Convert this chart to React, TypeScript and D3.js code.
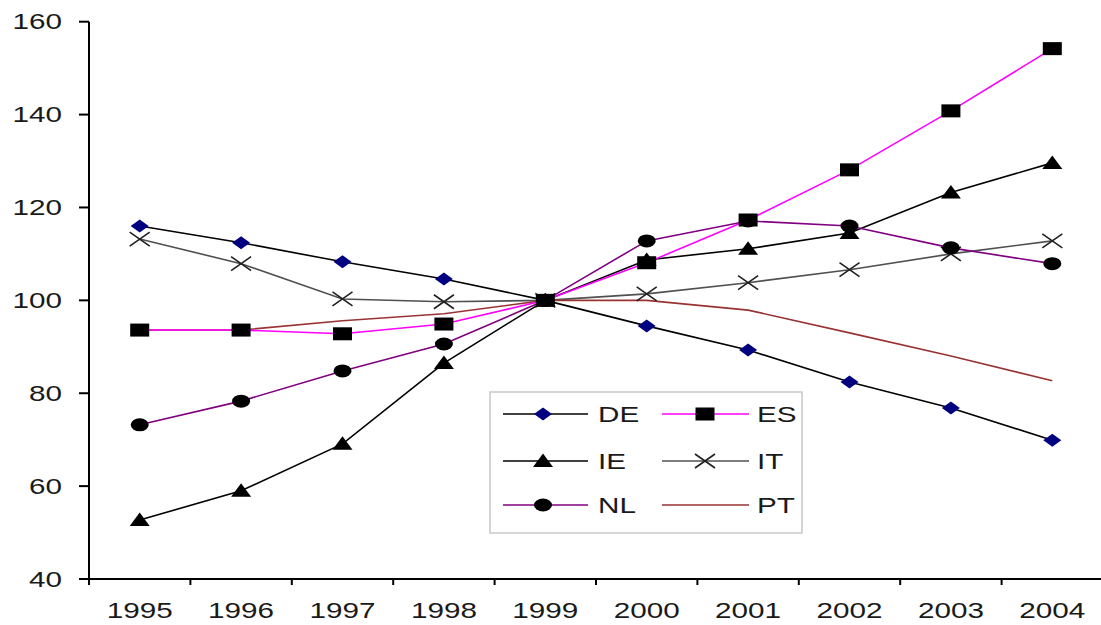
import React from "react";
import * as d3 from "d3";

const years = ["1995", "1996", "1997", "1998", "1999", "2000", "2001", "2002", "2003", "2004"];
const yTicks = [40, 60, 80, 100, 120, 140, 160];
const DE = [116.0, 112.4, 108.3, 104.6, 100, 94.5, 89.3, 82.4, 76.8, 69.9];
const ES = [93.6, 93.6, 92.8, 94.9, 100, 108.1, 117.3, 128.1, 140.8, 154.2];
const IE = [52.7, 59.0, 69.1, 86.5, 100, 108.7, 111.1, 114.5, 123.2, 129.6];
const IT = [113.2, 107.9, 100.3, 99.7, 100, 101.4, 103.8, 106.6, 110.0, 112.8];
const NL = [73.2, 78.3, 84.8, 90.6, 100, 112.8, 117.1, 116.0, 111.3, 107.9];
const PT = [93.6, 93.6, 95.6, 97.1, 100, 100.0, 97.9, 93.0, 88.0, 82.7];

type Marker = "diamond" | "square" | "triangle" | "x" | "circle" | "none";
const series: { name: string; values: number[]; color: string; marker: Marker; mfill: string }[] = [
  { name: "DE", values: DE, color: "#000000", marker: "diamond", mfill: "#000080" },
  { name: "IE", values: IE, color: "#000000", marker: "triangle", mfill: "#000000" },
  { name: "IT", values: IT, color: "#505050", marker: "x", mfill: "#202020" },
  { name: "NL", values: NL, color: "#800080", marker: "circle", mfill: "#000000" },
  { name: "PT", values: PT, color: "#993333", marker: "none", mfill: "none" },
  { name: "ES", values: ES, color: "#ff00ff", marker: "square", mfill: "#000000" },
];
const legendOrder = ["DE", "ES", "IE", "IT", "NL", "PT"];

const FS = 21.5;
const SX = 1.38;
const FONT = "'Liberation Sans', Arial, sans-serif";

function MarkerShape({ type, x, y, fill }: { type: Marker; x: number; y: number; fill: string }) {
  if (type === "diamond")
    return <path d={`M${x - 9},${y}L${x},${y - 6.5}L${x + 9},${y}L${x},${y + 6.5}Z`} fill={fill} />;
  if (type === "square") return <rect x={x - 9.5} y={y - 6.5} width={19} height={13} fill={fill} />;
  if (type === "triangle")
    return <path d={`M${x - 10},${y + 6}L${x},${y - 7.5}L${x + 10},${y + 6}Z`} fill={fill} />;
  if (type === "circle") return <ellipse cx={x} cy={y} rx={9} ry={6.5} fill={fill} />;
  if (type === "x")
    return (
      <path
        d={`M${x - 10},${y - 7}L${x + 10},${y + 7}M${x - 10},${y + 7}L${x + 10},${y - 7}`}
        stroke={fill}
        strokeWidth={1.6}
        fill="none"
      />
    );
  return null;
}

function T({ x, y, anchor, children }: { x: number; y: number; anchor: string; children: React.ReactNode }) {
  return (
    <text
      transform={`translate(${x},${y}) scale(${SX},1)`}
      textAnchor={anchor}
      fontFamily={FONT}
      fontSize={FS}
      fill="#1a1a1a"
    >
      {children}
    </text>
  );
}

export default function App() {
  const W = 1101, H = 625;
  const x = d3.scaleBand<string>().domain(years).range([89, 1103]);
  const bw = x.bandwidth();
  const cx = (yr: string) => (x(yr) as number) + bw / 2;
  const y = d3.scaleLinear().domain([40, 160]).range([579, 21.7]);
  const line = d3
    .line<number>()
    .x((_, i) => cx(years[i]))
    .y((v) => y(v));

  const legendRows = [414, 461, 505];
  const legendCols = [
    { l0: 503, l1: 588, m: 543, t: 598 },
    { l0: 662, l1: 749, m: 705, t: 757 },
  ];

  return (
    <svg width={W} height={H} style={{ position: "absolute", left: 0, top: 0, background: "#fff" }}>
      <rect width={W} height={H} fill="#fff" />
      {series.map((s) => (
        <path key={s.name} d={line(s.values) || ""} fill="none" stroke={s.color} strokeWidth={1.6} />
      ))}
      {series.map((s) =>
        s.values.map((v, i) => (
          <MarkerShape key={s.name + i} type={s.marker} x={cx(years[i])} y={y(v)} fill={s.mfill} />
        ))
      )}
      <line x1={89} y1={y(160)} x2={89} y2={579} stroke="#000" strokeWidth={2} />
      <line x1={89} y1={579} x2={1103} y2={579} stroke="#000" strokeWidth={2} />
      {yTicks.map((t) => (
        <g key={t}>
          <line x1={79} x2={89} y1={y(t)} y2={y(t)} stroke="#000" strokeWidth={2} />
          <T x={62} y={y(t) + 7.5} anchor="end">{t}</T>
        </g>
      ))}
      {d3.range(years.length + 1).map((i) => (
        <line key={i} x1={89 + i * bw} x2={89 + i * bw} y1={579} y2={585} stroke="#000" strokeWidth={2} />
      ))}
      {years.map((yr) => (
        <T key={yr} x={cx(yr)} y={618} anchor="middle">{yr}</T>
      ))}
      <rect x={490} y={392} width={312} height={141} fill="#fff" stroke="#c8c8c8" strokeWidth={1.5} />
      {legendOrder.map((name, k) => {
        const s = series.find((q) => q.name === name)!;
        const col = legendCols[k % 2];
        const ry = legendRows[Math.floor(k / 2)];
        return (
          <g key={name}>
            <line x1={col.l0} x2={col.l1} y1={ry} y2={ry} stroke={s.color} strokeWidth={1.6} />
            <MarkerShape type={s.marker} x={col.m} y={ry} fill={s.mfill} />
            <T x={col.t} y={ry + 8} anchor="start">{name}</T>
          </g>
        );
      })}
    </svg>
  );
}
